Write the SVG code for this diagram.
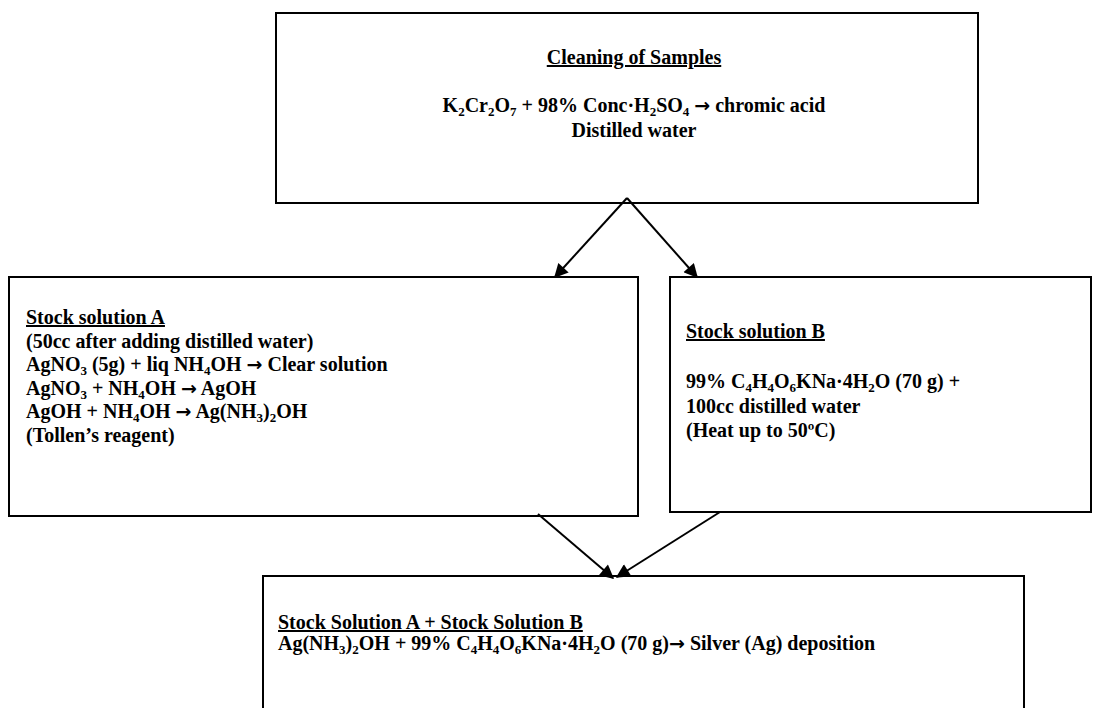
<svg xmlns="http://www.w3.org/2000/svg" width="1099" height="708" viewBox="0 0 1099 708">
<defs>
<style>
.box{fill:#fff;stroke:#000;stroke-width:2}
.t{font-family:"Liberation Serif","Times New Roman",serif;font-weight:bold;font-size:20px;fill:#000}
.u{text-decoration:underline}
.c{text-anchor:middle}
.s{font-size:13px}
.ar{font-family:"DejaVu Sans",sans-serif;font-size:19px}
.con{stroke:#000;stroke-width:2;fill:none;marker-end:url(#ah)}
</style>
<marker id="ah" viewBox="0 0 10 10" refX="9" refY="5" markerWidth="17" markerHeight="14" orient="auto" markerUnits="userSpaceOnUse">
<path d="M0,0 L10,5 L0,10 Z" fill="#000"/>
</marker>
</defs>
<rect width="1099" height="708" fill="#fff"/>
<g id="cleaning">
<rect class="box" x="276" y="13" width="702" height="190"/>
<text class="t u c" x="634" y="64">Cleaning of Samples</text>
<text class="t c" x="634" y="112">K<tspan class="s" dy="4">2</tspan><tspan dy="-4">Cr</tspan><tspan class="s" dy="4">2</tspan><tspan dy="-4">O</tspan><tspan class="s" dy="4">7</tspan><tspan dy="-4"> + 98% Conc·H</tspan><tspan class="s" dy="4">2</tspan><tspan dy="-4">SO</tspan><tspan class="s" dy="4">4</tspan><tspan dy="-4"> </tspan><tspan class="ar">→</tspan><tspan> chromic acid</tspan></text>
<text class="t c" x="634" y="137">Distilled water</text>
</g>
<g id="stockA">
<rect class="box" x="9" y="277" width="629" height="239"/>
<text class="t u" x="26" y="324">Stock solution A</text>
<text class="t" x="26" y="348">(50cc after adding distilled water)</text>
<text class="t" x="26" y="371">AgNO<tspan class="s" dy="4">3</tspan><tspan dy="-4"> (5g) + liq NH</tspan><tspan class="s" dy="4">4</tspan><tspan dy="-4">OH </tspan><tspan class="ar">→</tspan><tspan> Clear solution</tspan></text>
<text class="t" x="26" y="395">AgNO<tspan class="s" dy="4">3</tspan><tspan dy="-4"> + NH</tspan><tspan class="s" dy="4">4</tspan><tspan dy="-4">OH </tspan><tspan class="ar">→</tspan><tspan> AgOH</tspan></text>
<text class="t" x="26" y="418">AgOH + NH<tspan class="s" dy="4">4</tspan><tspan dy="-4">OH </tspan><tspan class="ar">→</tspan><tspan> Ag(NH</tspan><tspan class="s" dy="4">3</tspan><tspan dy="-4">)</tspan><tspan class="s" dy="4">2</tspan><tspan dy="-4">OH</tspan></text>
<text class="t" x="26" y="442">(Tollen’s reagent)</text>
</g>
<g id="stockB">
<rect class="box" x="670" y="277" width="421" height="235"/>
<text class="t u" x="686" y="338">Stock solution B</text>
<text class="t" x="686" y="388">99% C<tspan class="s" dy="4">4</tspan><tspan dy="-4">H</tspan><tspan class="s" dy="4">4</tspan><tspan dy="-4">O</tspan><tspan class="s" dy="4">6</tspan><tspan dy="-4">KNa·4H</tspan><tspan class="s" dy="4">2</tspan><tspan dy="-4">O (70 g) +</tspan></text>
<text class="t" x="686" y="413">100cc distilled water</text>
<text class="t" x="686" y="437">(Heat up to 50ºC)</text>
</g>
<g id="mix">
<rect class="box" x="263" y="576" width="761" height="150"/>
<text class="t u" x="278" y="629">Stock Solution A + Stock Solution B</text>
<text class="t" x="278" y="650">Ag(NH<tspan class="s" dy="4">3</tspan><tspan dy="-4">)</tspan><tspan class="s" dy="4">2</tspan><tspan dy="-4">OH + 99% C</tspan><tspan class="s" dy="4">4</tspan><tspan dy="-4">H</tspan><tspan class="s" dy="4">4</tspan><tspan dy="-4">O</tspan><tspan class="s" dy="4">6</tspan><tspan dy="-4">KNa·4H</tspan><tspan class="s" dy="4">2</tspan><tspan dy="-4">O (70 g)</tspan><tspan class="ar">→</tspan><tspan> Silver (Ag) deposition</tspan></text>
</g>
<g id="connectors">
<line class="con" x1="627" y1="198" x2="555" y2="277"/>
<line class="con" x1="627" y1="198" x2="697" y2="277"/>
<line class="con" x1="538" y1="514" x2="613" y2="578"/>
<line class="con" x1="720" y1="512" x2="617" y2="577"/>
</g>
</svg>
